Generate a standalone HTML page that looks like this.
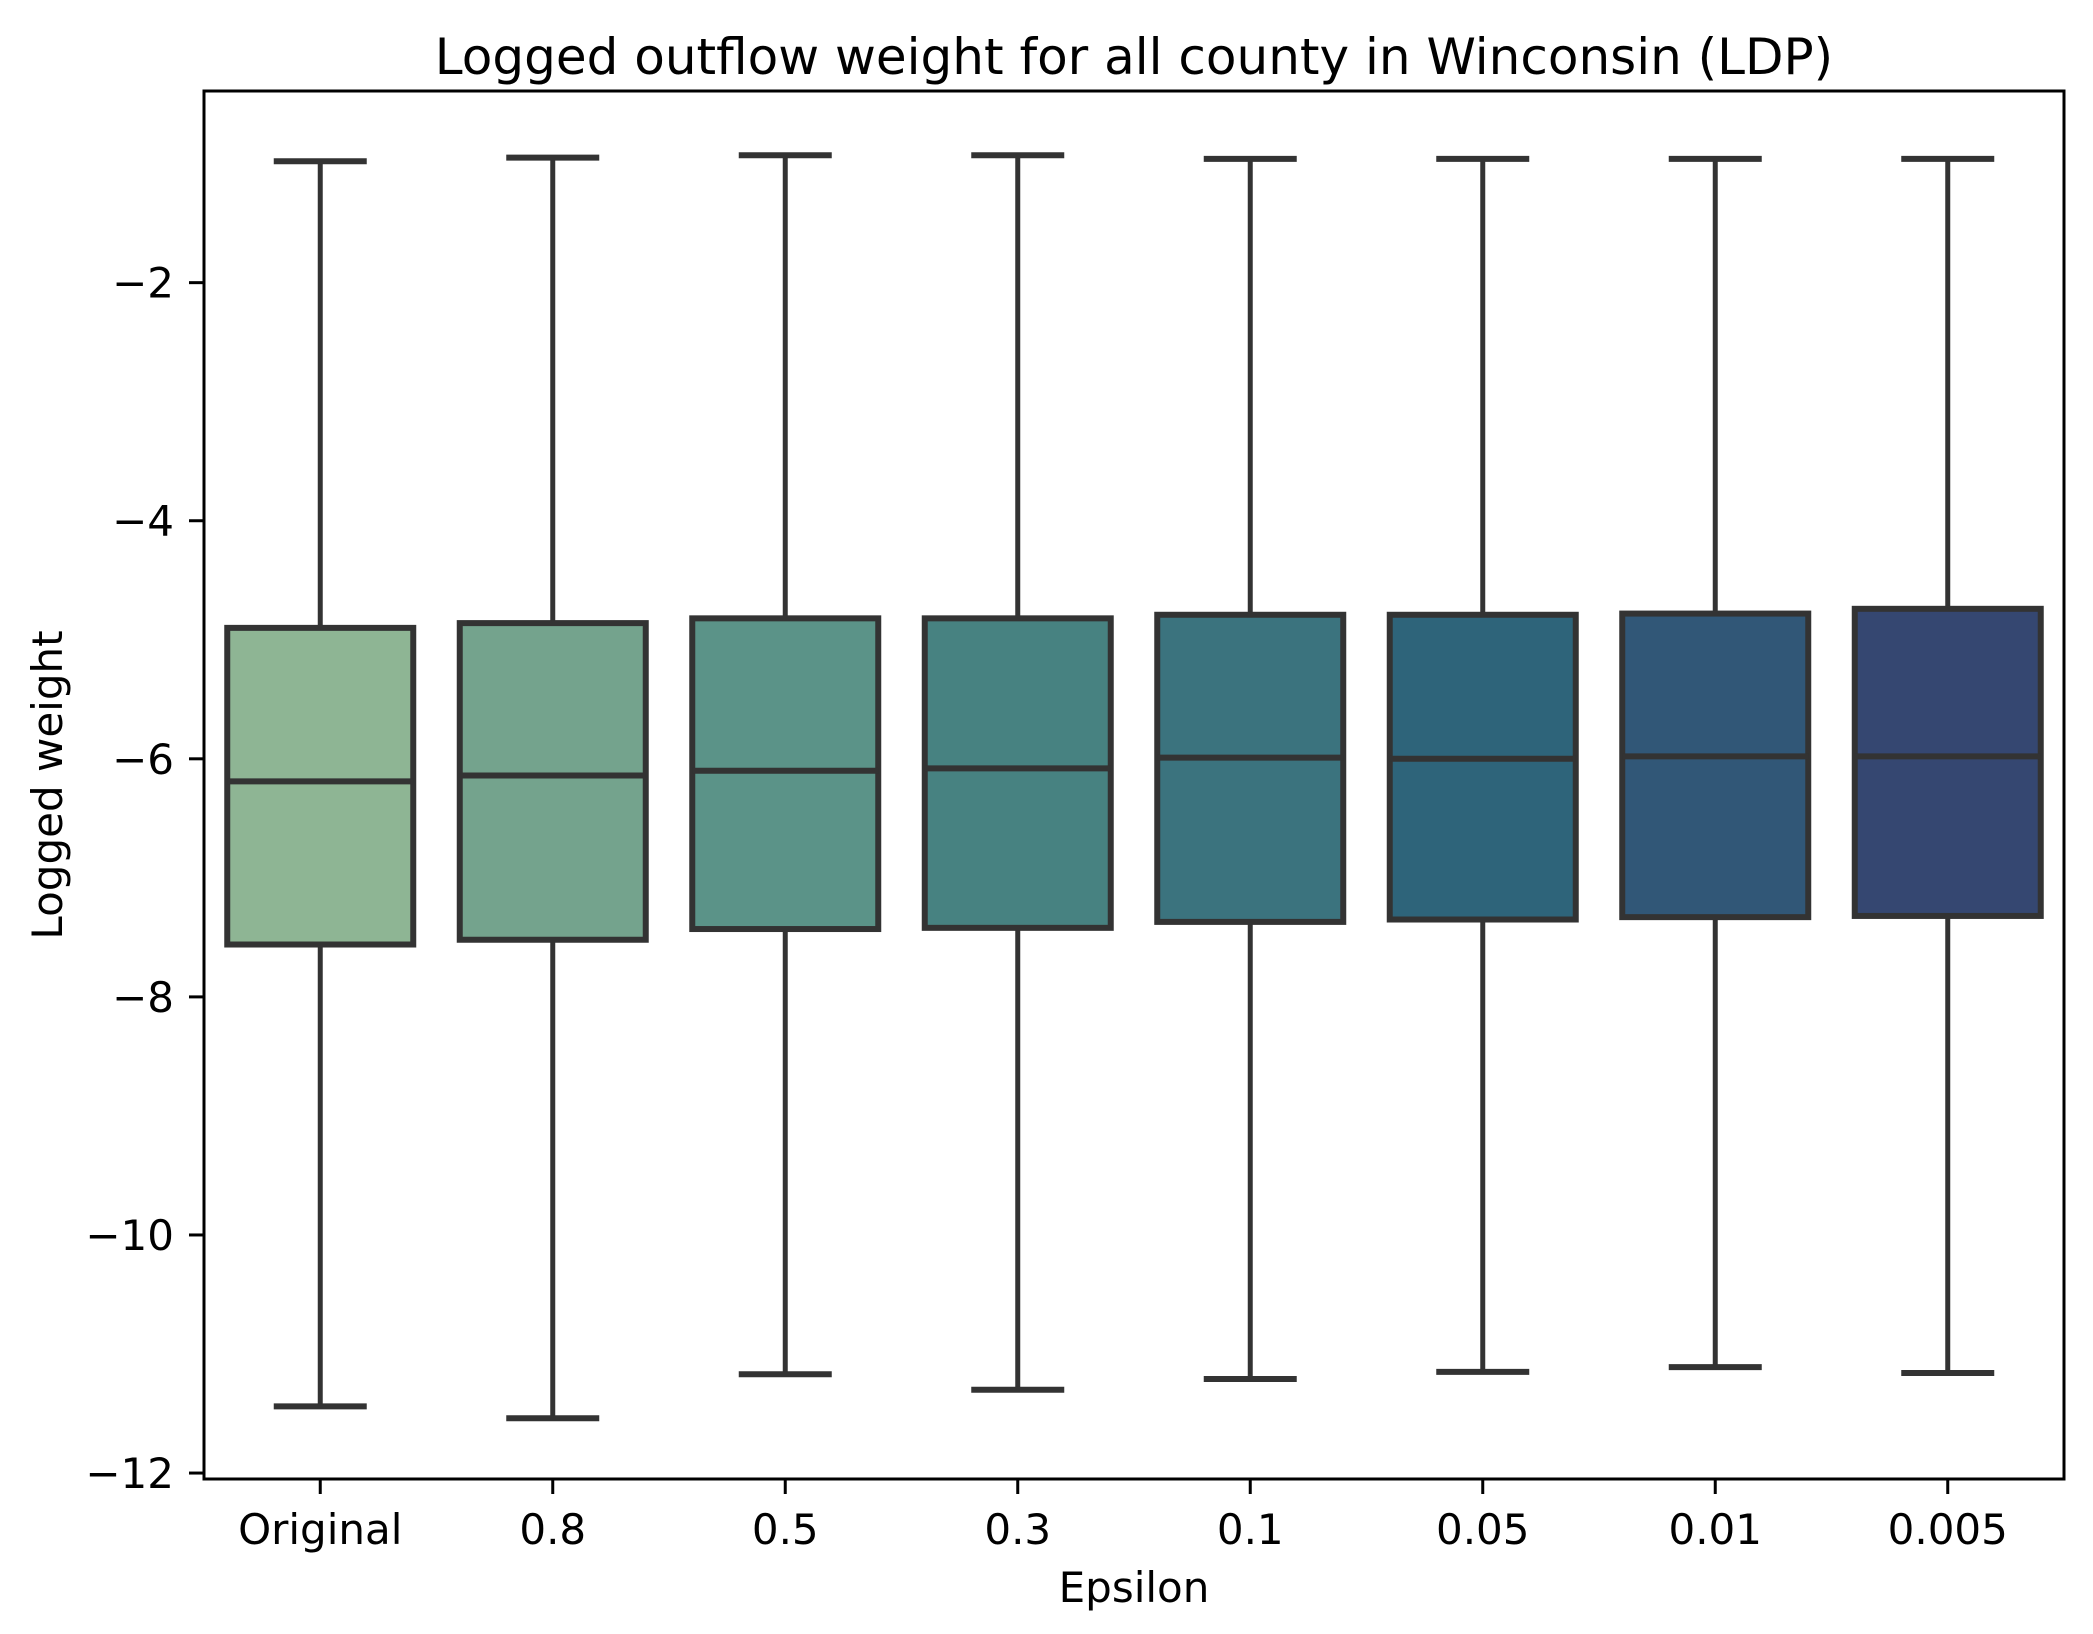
<!DOCTYPE html>
<html><head><meta charset="utf-8"><style>
html,body{margin:0;padding:0;background:#fff;}
svg{display:block;font-family:"DejaVu Sans","Liberation Sans",sans-serif;}
</style></head><body>
<svg id="chart" width="2093" height="1634" viewBox="0 0 2093 1634">
<rect x="0" y="0" width="2093" height="1634" fill="#fff"/>
<text x="1134" y="74" font-size="50" text-anchor="middle" fill="#000">Logged outflow weight for all county in Winconsin (LDP)</text>
<text x="1134" y="1602" font-size="42" text-anchor="middle" fill="#000">Epsilon</text>
<text x="0" y="0" font-size="42" text-anchor="middle" fill="#000" transform="translate(62,785) rotate(-90)">Logged weight</text>
<g id="marks"></g>
<g id="axes"></g>
</svg>
<script>
const categories = ["Original","0.8","0.5","0.3","0.1","0.05","0.01","0.005"];
const whiskerHigh = [-0.98,-0.95,-0.93,-0.93,-0.96,-0.96,-0.96,-0.96];
const q3Values = [-4.90,-4.86,-4.82,-4.82,-4.79,-4.79,-4.78,-4.74];
const medianValues = [-6.19,-6.14,-6.10,-6.08,-5.99,-6.00,-5.98,-5.98];
const q1Values = [-7.56,-7.52,-7.43,-7.42,-7.37,-7.35,-7.33,-7.32];
const whiskerLow = [-11.44,-11.54,-11.17,-11.30,-11.21,-11.15,-11.11,-11.16];
const yTicks = [-12,-10,-8,-6,-4,-2];
const colors = ["#8eb594","#74a38d","#5b9388","#478281","#3b737e","#2e647a","#315777","#354771"];

const NS="http://www.w3.org/2000/svg";
const L=204,R=2064,T=91,B=1479;
const yMin=-12.05,yMax=-0.39;
function yS(v){return B-(v-yMin)/(yMax-yMin)*(B-T);}
const band=(R-L)/categories.length;
function xS(i){return L+band*(i+0.5);}
function mk(tag,attrs,parent){const e=document.createElementNS(NS,tag);for(const k in attrs)e.setAttribute(k,attrs[k]);parent.appendChild(e);return e;}
const marks=document.getElementById('marks');
const axes=document.getElementById('axes');
const lc="#333333";
categories.forEach((c,i)=>{
  const g=mk('g',{},marks);
  
  
  const cx=xS(i),bw=band*0.8,cap=bw/2;
  const w1=mk('line',{x1:cx,x2:cx,y1:yS(whiskerHigh[i]),y2:yS(q3Values[i]),stroke:lc,'stroke-width':5},g);
  
  
  const w2=mk('line',{x1:cx,x2:cx,y1:yS(q1Values[i]),y2:yS(whiskerLow[i]),stroke:lc,'stroke-width':5},g);
  
  
  const c1=mk('line',{x1:cx-cap/2,x2:cx+cap/2,y1:yS(whiskerHigh[i]),y2:yS(whiskerHigh[i]),stroke:lc,'stroke-width':6},g);
  
  
  const c2=mk('line',{x1:cx-cap/2,x2:cx+cap/2,y1:yS(whiskerLow[i]),y2:yS(whiskerLow[i]),stroke:lc,'stroke-width':6},g);
  
  
  const r=mk('rect',{x:cx-bw/2,y:yS(q3Values[i]),width:bw,height:yS(q1Values[i])-yS(q3Values[i]),fill:colors[i],stroke:lc,'stroke-width':6},g);
  
  
  const m=mk('line',{x1:cx-bw/2,x2:cx+bw/2,y1:yS(medianValues[i]),y2:yS(medianValues[i]),stroke:lc,'stroke-width':6},g);
  
  
  const t=mk('line',{x1:cx,x2:cx,y1:B,y2:B+15,stroke:'#000','stroke-width':3},axes);
  
  
  const lb=mk('text',{x:cx,y:B+65,'font-size':42,'text-anchor':'middle',fill:'#000'},axes);
  lb.textContent=c;
  
  
});
yTicks.forEach(v=>{
  const y=yS(v);
  const t=mk('line',{x1:L-15,x2:L,y1:y,y2:y,stroke:'#000','stroke-width':3},axes);
  
  
  const lb=mk('text',{x:L-30,y:y+15,'font-size':42,'text-anchor':'end',fill:'#000'},axes);
  lb.textContent=(v<0?'\u2212':'')+Math.abs(v);
  
  
});
const fr=mk('rect',{x:L,y:T,width:R-L,height:B-T,fill:'none',stroke:'#000','stroke-width':3},axes);


</script>
</body></html>
